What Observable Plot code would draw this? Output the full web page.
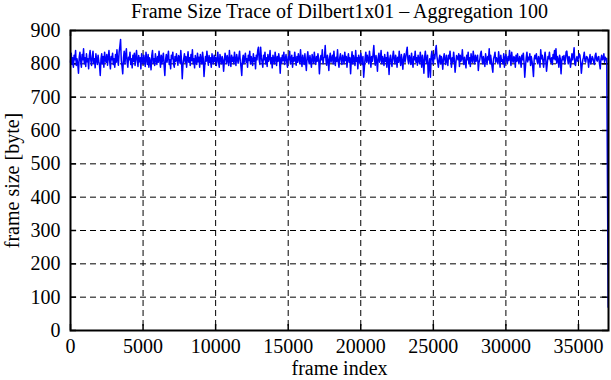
<!DOCTYPE html>
<html>
<head>
<meta charset="utf-8">
<script src="https://cdn.jsdelivr.net/npm/d3@7"></script>
<script src="https://cdn.jsdelivr.net/npm/@observablehq/plot@0.6"></script>
<style>
  html, body { margin: 0; padding: 0; background: #fff; }
  #title { font-family: "Liberation Serif", serif; font-size: 20px; height: 20px; line-height: 22px; text-align: center; width: 611px; padding-left: 68px; box-sizing: border-box; white-space: nowrap; }
</style>
</head>
<body>
<div id="title">Frame Size Trace of Dilbert1x01 – Aggregation 100</div>
<div id="chart"></div>
<script>
const frameStep = 50;
const frameSizes = [
805, 832, 798, 818, 790, 826, 812, 840, 795, 815, 800, 772, 820, 835, 808, 790, 828, 812, 845, 800,
818, 792, 830, 806, 815, 785, 825, 840, 810, 795, 820, 838, 802, 815, 788, 830, 812, 798, 826, 808,
795, 765, 815, 830, 800, 822, 790, 835, 812, 805, 828, 796, 818, 840, 808, 785, 822, 812, 832, 798,
815, 790, 828, 805, 842, 812, 796, 835, 852, 873, 810, 792, 770, 818, 838, 800, 826, 845, 805, 790,
820, 812, 835, 798, 815, 788, 826, 808, 832, 795, 818, 840, 810, 792, 825, 806, 818, 785, 830, 812,
800, 826, 812, 792, 835, 815, 798, 828, 790, 818, 808, 782, 825, 840, 802, 815, 795, 830, 812, 798,
822, 805, 838, 815, 790, 826, 800, 818, 832, 795, 765, 812, 828, 805, 820, 838, 798, 812, 785, 826,
815, 835, 800, 790, 822, 808, 830, 812, 796, 825, 818, 802, 840, 810, 755, 798, 815, 830, 805, 822,
790, 815, 836, 805, 818, 795, 828, 810, 842, 800, 815, 788, 825, 812, 798, 832, 806, 820, 790, 828,
812, 800, 835, 815, 762, 795, 822, 808, 838, 812, 796, 825, 805, 818, 790, 830, 812, 800, 826, 808,
820, 795, 812, 835, 805, 790, 828, 815, 800, 822, 812, 778, 808, 832, 818, 800, 825, 812, 795, 840,
810, 792, 826, 808, 820, 800, 835, 812, 795, 828, 815, 802, 820, 838, 808, 790, 765, 812, 826, 800,
818, 832, 805, 815, 790, 826, 810, 838, 800, 822, 812, 795, 830, 808, 818, 785, 826, 812, 840, 850,
812, 798, 850, 820, 805, 790, 826, 812, 835, 800, 818, 792, 828, 808, 815, 840, 802, 818, 788, 826,
812, 800, 835, 815, 795, 822, 808, 830, 812, 772, 818, 802, 826, 810, 835, 798, 815, 828, 805, 790,
822, 812, 838, 800, 815, 826, 790, 818, 808, 835, 812, 796, 822, 805, 830, 815, 800, 842, 810, 792,
826, 812, 798, 830, 805, 780, 818, 836, 812, 800, 825, 808, 790, 828, 815, 802, 835, 812, 798, 822,
808, 830, 815, 770, 805, 825, 812, 842, 800, 818, 820, 855, 812, 796, 826, 810, 780, 818, 832, 805,
815, 826, 800, 838, 812, 795, 820, 808, 842, 805, 790, 818, 830, 812, 798, 826, 815, 800, 835, 810,
822, 790, 815, 830, 805, 818, 770, 812, 836, 800, 825, 812, 795, 840, 808, 818, 785, 826, 812, 800,
832, 815, 798, 822, 760, 790, 818, 835, 805, 826, 812, 800, 838, 815, 790, 822, 808, 830, 855, 812,
796, 825, 810, 778, 818, 832, 805, 815, 840, 800, 822, 812, 795, 828, 808, 818, 790, 835, 812, 768,
815, 826, 805, 792, 822, 838, 812, 800, 826, 815, 790, 820, 805, 838, 812, 795, 828, 810, 784, 818,
830, 805, 818, 836, 850, 812, 800, 825, 815, 798, 832, 808, 790, 822, 812, 838, 805, 818, 796, 826,
812, 800, 835, 815, 790, 826, 808, 772, 820, 838, 812, 800, 826, 760, 795, 815, 760, 822, 838, 812,
800, 828, 815, 840, 855, 822, 805, 790, 815, 826, 800, 822, 810, 784, 818, 830, 812, 798, 826, 808,
795, 826, 815, 838, 812, 790, 818, 805, 835, 812, 775, 800, 825, 818, 812, 830, 792, 826, 808, 815,
842, 812, 798, 820, 805, 788, 826, 812, 835, 800, 818, 792, 830, 812, 805, 838, 815, 800, 826, 808,
815, 826, 780, 805, 812, 830, 838, 815, 800, 822, 808, 792, 830, 815, 798, 822, 812, 845, 800, 826,
808, 790, 775, 815, 822, 835, 805, 818, 812, 800, 836, 815, 790, 826, 808, 812, 800, 830, 790, 818,
828, 812, 800, 822, 810, 840, 818, 795, 835, 812, 805, 822, 818, 790, 826, 808, 830, 812, 800, 822,
815, 790, 826, 812, 832, 805, 760, 792, 818, 835, 806, 820, 812, 830, 795, 822, 808, 790, 762, 815,
826, 815, 830, 808, 800, 822, 812, 790, 842, 815, 826, 808, 790, 818, 835, 812, 778, 800, 822, 815,
835, 812, 805, 818, 798, 828, 815, 840, 812, 845, 802, 822, 812, 790, 826, 815, 770, 808, 822, 812,
825, 800, 812, 836, 838, 815, 800, 822, 815, 790, 808, 830, 812, 826, 848, 800, 795, 815, 822, 808,
818, 830, 826, 805, 772, 795, 812, 820, 835, 808, 805, 822, 820, 812, 790, 815, 828, 800, 810, 822,
816, 805, 798, 825, 832, 812, 808, 820, 822, 800, 785, 815, 826, 812, 815, 830, 805, 820, 812, 816,
440, 70
];
const xTicks = [0, 5000, 10000, 15000, 20000, 25000, 30000, 35000];
const yTicks = [0, 100, 200, 300, 400, 500, 600, 700, 800, 900];

const data = frameSizes.map((v, i) => ({frame: i * frameStep, size: v}));
const xMax = 37070;
const font = "Liberation Serif, serif";
const fs = 20;

const chart = Plot.plot({
  width: 611,
  height: 360,
  marginLeft: 70,
  marginRight: 3,
  marginTop: 10,
  marginBottom: 50,
  style: {fontFamily: font, fontSize: fs + "px", background: "#fff", color: "#000", overflow: "visible"},
  x: {domain: [0, xMax], ticks: xTicks, tickFormat: "d"},
  y: {domain: [0, 900], ticks: yTicks, tickFormat: "d"},
  marks: [
    Plot.gridX(xTicks, {stroke: "#000", strokeOpacity: 1, strokeDasharray: "6,4", strokeWidth: 1}),
    Plot.gridY(yTicks, {stroke: "#000", strokeOpacity: 1, strokeDasharray: "6,4", strokeWidth: 1}),
    Plot.ruleX(xTicks, {y1: 0, y2: 18, stroke: "#000", strokeWidth: 1.5}),
    Plot.ruleX(xTicks, {y1: 882, y2: 900, stroke: "#000", strokeWidth: 1.5}),
    Plot.ruleY(yTicks, {x1: 0, x2: 420, stroke: "#000", strokeWidth: 1.5}),
    Plot.ruleY(yTicks, {x1: xMax - 420, x2: xMax, stroke: "#000", strokeWidth: 1.5}),
    Plot.line(data, {x: "frame", y: "size", stroke: "#0000ff", strokeWidth: 1.5}),
    Plot.frame({stroke: "#000", strokeWidth: 2}),
    Plot.axisX(xTicks, {tickSize: 0, tickPadding: 8, tickFormat: "d", fontSize: fs, fontFamily: font, label: "frame index", labelAnchor: "center", labelArrow: "none", labelOffset: 44}),
    Plot.axisY(yTicks, {tickSize: 0, tickPadding: 10, tickFormat: "d", fontSize: fs, fontFamily: font, label: "frame size [byte]", labelAnchor: "center", labelArrow: "none", labelOffset: 66})
  ]
});
document.getElementById("chart").appendChild(chart);
</script>
</body>
</html>
